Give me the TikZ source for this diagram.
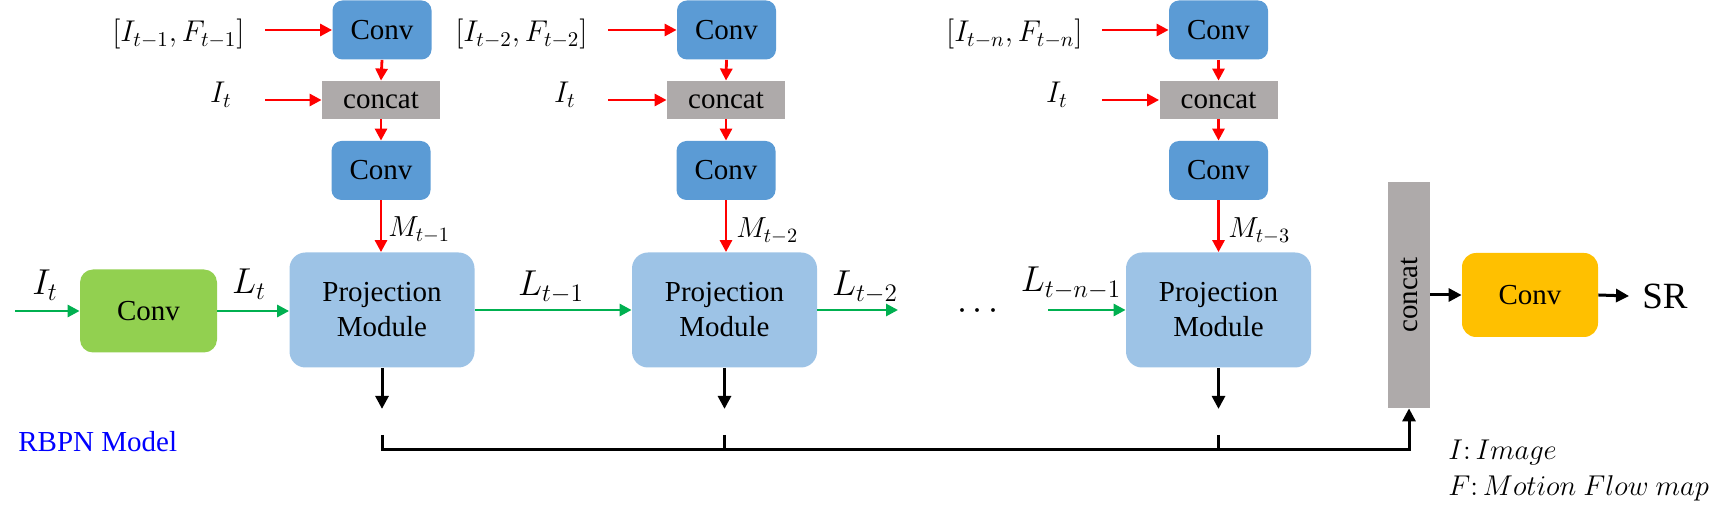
\documentclass[tikz,border=0pt]{standalone}
\usepackage{fix-cm}
\usepackage{graphicx}
\usepackage{fontspec}
\setmainfont{Liberation Serif}
\newfontfamily\tnr{Liberation Serif}
\usetikzlibrary{arrows.meta}
\definecolor{convblue}{HTML}{5B9BD5}
\definecolor{projblue}{HTML}{9DC3E6}
\definecolor{catgrey}{HTML}{AEAAAA}
\definecolor{gconv}{HTML}{92D050}
\definecolor{yconv}{HTML}{FFC000}
\definecolor{arrred}{HTML}{FF0000}
\definecolor{arrgreen}{HTML}{00B050}
\definecolor{rbpnblue}{HTML}{0000FF}
\begin{document}
\begin{tikzpicture}[x=0.5pt,y=-0.5pt,
  boxfont/.style={font=\tnr\fontsize{14.5}{17.5}\selectfont},
  topconv/.style={boxfont, fill=convblue, rounded corners=5pt, minimum width=49.5pt, minimum height=29.5pt, inner sep=0pt},
  catbox/.style={boxfont, fill=catgrey, minimum width=59pt, minimum height=19pt, inner sep=0pt},
  projbox/.style={boxfont, fill=projblue, rounded corners=8pt, minimum width=92.5pt, minimum height=57.5pt, align=center, inner sep=0pt},
  gbox/.style={boxfont, fill=gconv, rounded corners=6.5pt, minimum width=68.5pt, minimum height=41.5pt, inner sep=0pt},
  ybox/.style={boxfont, fill=yconv, rounded corners=7pt, minimum width=68pt, minimum height=42pt, inner sep=0pt},
  vcat/.style={boxfont, fill=catgrey, minimum width=21pt, minimum height=113pt, inner sep=0pt},
  redarr/.style={draw=arrred, line width=1.4pt, -{Triangle[length=6pt,width=6pt]}},
  greenarr/.style={draw=arrgreen, line width=1.4pt, -{Triangle[length=6pt,width=6pt]}},
  blackarr/.style={draw=black, line width=1.5pt, -{Triangle[length=6.5pt,width=6.5pt]}},
  blackline/.style={draw=black, line width=1.5pt},
  toplab/.style={font=\fontsize{15}{15}\selectfont, inner sep=0pt, anchor=base east},
  biglab/.style={font=\fontsize{18}{18}\selectfont, inner sep=0pt, anchor=base},
  mlab/.style={font=\fontsize{14.5}{14.5}\selectfont, inner sep=0pt, anchor=base west},
  leglab/.style={font=\fontsize{14.3}{17}\selectfont, inner sep=0pt, anchor=base west}
]
\useasboundingbox (0,0) rectangle (1728,517);

% ---- column 1
\node[topconv] (ca1) at (382,30) {Conv};
\node[catbox]  (cc1) at (381,100) {concat};
\node[topconv] (cb1) at (381,170.5) {Conv};
\node[projbox] (p1) at (382,310) {Projection\\Module};
\node[toplab] (f1) at (245,42) {$[I_{t-1},F_{t-1}]$};
\node[toplab] (i1) at (232,103) {$I_t$};
\draw[redarr, shorten <=10pt] (ca1.west -| f1.east) -- (ca1.west);
\draw[redarr, shorten <=16.5pt] (cc1.west -| i1.east) -- (cc1.west);
\draw[redarr] (ca1.south) -- (cc1.north);
\draw[redarr] (cc1.south) -- (cb1.north);
\draw[redarr] (cb1.south) -- (cb1.south |- p1.north);
\node[mlab] (m1) at (388,237) {$M_{t-1}$};

% ---- column 2
\node[topconv] (ca2) at (726.5,30) {Conv};
\node[catbox]  (cc2) at (726,100) {concat};
\node[topconv] (cb2) at (726,170.5) {Conv};
\node[projbox] (p2) at (724.5,310) {Projection\\Module};
\node[toplab] (f2) at (588,42) {$[I_{t-2},F_{t-2}]$};
\node[toplab] (i2) at (576,103) {$I_t$};
\draw[redarr, shorten <=10pt] (ca2.west -| f2.east) -- (ca2.west);
\draw[redarr, shorten <=16pt] (cc2.west -| i2.east) -- (cc2.west);
\draw[redarr] (ca2.south) -- (cc2.north);
\draw[redarr] (cc2.south) -- (cb2.north);
\draw[redarr] (cb2.south) -- (cb2.south |- p2.north);
\node[mlab] (m2) at (736,238) {$M_{t-2}$};

% ---- column 3
\node[topconv] (ca3) at (1218.5,30) {Conv};
\node[catbox]  (cc3) at (1218.5,100) {concat};
\node[topconv] (cb3) at (1218.5,170.5) {Conv};
\node[projbox] (p3) at (1218.5,310) {Projection\\Module};
\node[toplab] (f3) at (1083,42) {$[I_{t-n},F_{t-n}]$};
\node[toplab] (i3) at (1068,103) {$I_t$};
\draw[redarr, shorten <=9.5pt] (ca3.west -| f3.east) -- (ca3.west);
\draw[redarr, shorten <=17pt] (cc3.west -| i3.east) -- (cc3.west);
\draw[redarr] (ca3.south) -- (cc3.north);
\draw[redarr] (cc3.south) -- (cb3.north);
\draw[redarr] (cb3.south) -- (cb3.south |- p3.north);
\node[mlab] (m3) at (1228,238) {$M_{t-3}$};

% ---- main green chain
\coordinate (in0) at (15,311);
\node[gbox] (g) at (148.5,311) {Conv};
\draw[greenarr] (in0) -- (g.west);
\node[biglab] (lit) at (45,295) {$I_t$};
\draw[greenarr] (g.east) -- (g.east -| p1.west);
\node[biglab] (llt) at (249,294) {$L_t$};
\draw[greenarr] (p1.east) -- (p2.west);
\node[biglab] (ll1) at (551,296) {$L_{t-1}$};
\coordinate (out2) at (898,310);
\draw[greenarr] (p2.east) -- (out2);
\node[biglab] (ll2) at (865,296) {$L_{t-2}$};
\node[font=\fontsize{18}{18}\selectfont, inner sep=0pt] (dots) at (978,312) {$\cdots$};
\coordinate (in3) at (1048,310);
\draw[greenarr] (in3) -- (p3.west);
\node[biglab] (ll3) at (1071,292) {$L_{t-n-1}$};

% ---- output part
\node[vcat] (cv) at (1409,295) {\rotatebox{90}{concat}};
\node[ybox] (yc) at (1530,295) {Conv};
\node[font=\tnr\fontsize{18.5}{18.5}\selectfont, inner xsep=6.5pt, inner ysep=0pt] (sr) at (1665,296) {SR};
\draw[blackarr] (cv.east) -- (yc.west);
\draw[blackarr] (yc.east) -- (sr.west);

% ---- black collection
\draw[blackarr] (p1.south) -- ++(0,41);
\draw[blackarr] (p2.south) -- ++(0,41);
\draw[blackarr] (p3.south) -- ++(0,41);
\draw[blackarr] (p1.south |- 0,435) -- (p1.south |- 0,450) -- (cv.south |- 0,450) -- (cv.south);
\draw[blackline] (p2.south |- 0,435) -- (p2.south |- 0,450);
\draw[blackline] (p3.south |- 0,435) -- (p3.south |- 0,450);

% ---- texts
\node[boxfont, text=rbpnblue, inner sep=0pt, anchor=base west] (rbpn) at (18,452) {RBPN Model};
\node[leglab] (leg1) at (1448,460) {$I{:}\,Image$};
\node[leglab] (leg2) at (1448,495) {$F{:}\,Motion\ Flow\ map$};
\end{tikzpicture}
\end{document}
